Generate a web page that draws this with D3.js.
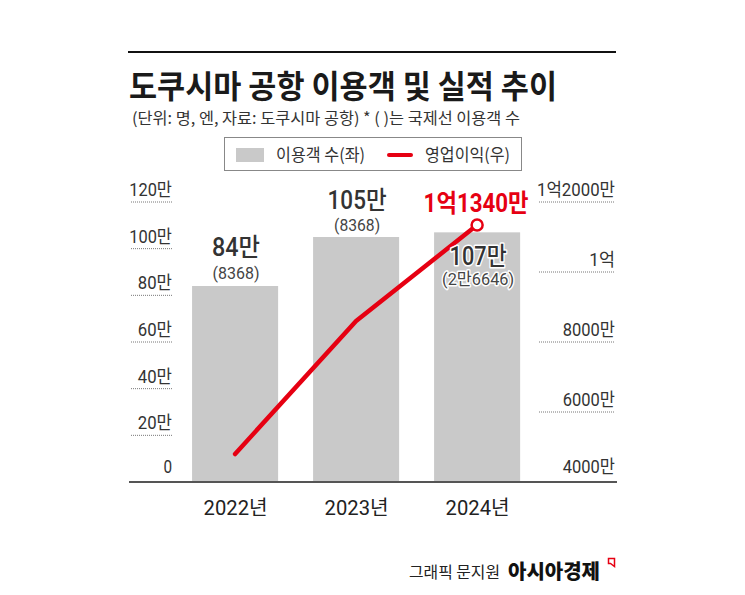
<!DOCTYPE html>
<html><head><meta charset="utf-8">
<script src="https://cdn.jsdelivr.net/npm/d3@7/dist/d3.min.js"></script>
<style>
html,body{margin:0;padding:0;background:#fff;}
svg text{font-family:"Noto Sans CJK KR","Noto Sans",sans-serif;}
svg text.num{font-family:Roboto,"Noto Sans CJK KR",sans-serif;}
</style></head>
<body>
<svg id="c" width="745" height="595"></svg>
<script>
const years = ["2022년", "2023년", "2024년"];
const passengers = [84, 105, 107];            // 만 명
const passengerLabels = ["84만", "105만", "107만"];
const intlLabels = ["(8368)", "(8368)", "(2만6646)"];
const profit = [4800, 8600, 11340];           // 만 엔
const profitLabel = "1억1340만";
const leftTicks = [0, 20, 40, 60, 80, 100, 120];
const leftTickLabels = ["0", "20만", "40만", "60만", "80만", "100만", "120만"];
const rightTicks = [4000, 6000, 8000, 10000, 12000];
const rightTickLabels = ["4000만", "6000만", "8000만", "1억", "1억2000만"];

const svg = d3.select("#c");
const RED = "#e60012";
const BAR = "#c9c9c9";

const x = d3.scaleBand().domain(years).range([171.5, 540.7]).paddingInner(0.289).paddingOuter(0.17);
const yL = d3.scaleLinear().domain([0, 120]).range([482, 202]);
const yR = d3.scaleLinear().domain([4000, 12000]).range([482, 202]);

// approximate rendered widths (px) for condensed look
function fit(sel, w) { return sel.attr("textLength", w).attr("lengthAdjust", "spacingAndGlyphs"); }
function labW(s, perDigit, perHangul, perParen) {
  let w = 0;
  for (const ch of s) {
    if (/[0-9]/.test(ch)) w += perDigit;
    else if (/[()]/.test(ch)) w += perParen;
    else w += perHangul;
  }
  return w;
}

// top rule
svg.append("line").attr("x1", 128).attr("x2", 616).attr("y1", 52).attr("y2", 52)
  .attr("stroke", "#111").attr("stroke-width", 2.2);

// title
fit(svg.append("text").attr("x", 129).attr("y", 98).text("도쿠시마 공항 이용객 및 실적 추이")
  .attr("font-size", 32).attr("font-weight", 700).attr("fill", "#1a1a1a"), 428);
fit(svg.append("text").attr("x", 132).attr("y", 124).text("(단위: 명, 엔, 자료: 도쿠시마 공항)  * ( )는 국제선 이용객 수")
  .attr("font-size", 16).attr("fill", "#333"), 388);

// legend
svg.append("rect").attr("x", 224.5).attr("y", 137.5).attr("width", 297).attr("height", 33)
  .attr("fill", "#fff").attr("stroke", "#888").attr("stroke-width", 1);
svg.append("rect").attr("x", 236).attr("y", 148).attr("width", 28).attr("height", 14).attr("fill", BAR);
fit(svg.append("text").attr("x", 276).attr("y", 161).text("이용객 수(좌)").attr("font-size", 17).attr("fill", "#333"), 89);
svg.append("line").attr("x1", 389).attr("x2", 411).attr("y1", 155).attr("y2", 155)
  .attr("stroke", RED).attr("stroke-width", 4).attr("stroke-linecap", "round");
fit(svg.append("text").attr("x", 425).attr("y", 161).text("영업이익(우)").attr("font-size", 17).attr("fill", "#333"), 85);

// left axis
const gL = svg.append("g");
leftTicks.forEach((t, i) => {
  if (t !== 0) {
    gL.append("line").attr("x1", 131).attr("x2", 173).attr("y1", yL(t)).attr("y2", yL(t))
      .attr("stroke", "#777").attr("stroke-width", 1).attr("stroke-dasharray", "1,1");
  }
  fit(gL.append("text").attr("class", "num").attr("x", 172).attr("y", t === 0 ? yL(t) - 9 : yL(t) - 6)
    .attr("text-anchor", "end").attr("font-size", 18).attr("fill", "#333")
    .text(leftTickLabels[i]), labW(leftTickLabels[i], 8.6, 17, 5));
});

// right axis
const gR = svg.append("g");
rightTicks.forEach((t, i) => {
  if (t !== 4000) {
    gR.append("line").attr("x1", 539).attr("x2", 615).attr("y1", yR(t)).attr("y2", yR(t))
      .attr("stroke", "#777").attr("stroke-width", 1).attr("stroke-dasharray", "1,1");
  }
  fit(gR.append("text").attr("class", "num").attr("x", 615).attr("y", t === 4000 ? yR(t) - 9 : yR(t) - 6)
    .attr("text-anchor", "end").attr("font-size", 18).attr("fill", "#333")
    .text(rightTickLabels[i]), labW(rightTickLabels[i], 8.8, 17, 5));
});

// bars
svg.selectAll("rect.bar").data(years).enter().append("rect").attr("class", "bar")
  .attr("x", d => x(d)).attr("width", x.bandwidth())
  .attr("y", (d, i) => yL(passengers[i])).attr("height", (d, i) => yL(0) - yL(passengers[i]))
  .attr("fill", BAR);

// baseline
svg.append("line").attr("x1", 129).attr("x2", 617).attr("y1", 482).attr("y2", 482)
  .attr("stroke", "#555").attr("stroke-width", 2);

// x labels
years.forEach(d => {
  fit(svg.append("text").attr("class", "num").attr("x", x(d) + x.bandwidth() / 2 + 0.5).attr("y", 515)
    .attr("text-anchor", "middle").attr("font-size", 20).attr("fill", "#222").text(d), 64);
});

// line
const cx = d => x(d) + x.bandwidth() / 2;
const line = d3.line().x((d, i) => cx(years[i])).y(d => yR(d));
svg.append("path").datum(profit).attr("d", line).attr("fill", "none")
  .attr("stroke", RED).attr("stroke-width", 4.5).attr("stroke-linecap", "round").attr("stroke-linejoin", "round");
svg.append("circle").attr("cx", cx(years[2])).attr("cy", yR(profit[2])).attr("r", 5.5)
  .attr("fill", "#fff").attr("stroke", RED).attr("stroke-width", 2.5);

// bar value labels
const lab = [
  {big: 256, small: 279, halo: false, wb: 48, ws: 47},
  {big: 209, small: 231, halo: false, wb: 59, ws: 46},
  {big: 265, small: 285, halo: true, wb: 57, ws: 72}
];
years.forEach((d, i) => {
  const g = svg.append("g");
  const t1 = fit(g.append("text").attr("class", "num").attr("x", cx(d) + 1).attr("y", lab[i].big).attr("text-anchor", "middle")
    .attr("font-size", 25).attr("font-weight", 500).attr("fill", "#333")
    .text(passengerLabels[i]), lab[i].wb);
  const t2 = fit(g.append("text").attr("class", "num").attr("x", cx(d) + 1).attr("y", lab[i].small).attr("text-anchor", "middle")
    .attr("font-size", 17).attr("fill", "#444")
    .text(intlLabels[i]), lab[i].ws);
  if (lab[i].halo) {
    [t1, t2].forEach(t => t.attr("stroke", "#fff").attr("stroke-width", 3).attr("paint-order", "stroke").attr("stroke-linejoin", "round"));
  }
});
fit(svg.append("text").attr("class", "num").attr("x", cx(years[2]) - 1).attr("y", 212).attr("text-anchor", "middle")
  .attr("font-size", 25).attr("font-weight", 700).attr("fill", RED)
  .text(profitLabel), 105);

// footer
fit(svg.append("text").attr("x", 409).attr("y", 578).text("그래픽 문지원").attr("font-size", 16).attr("fill", "#222"), 91);
fit(svg.append("text").attr("x", 508).attr("y", 579).text("아시아경제").attr("font-size", 20).attr("font-weight", 900).attr("fill", "#111"), 92);
svg.append("path").attr("d", "M608.5,558.5 L614.5,558.5 L614.5,566.5 L610.5,563.5 L608.5,563.5 Z")
  .attr("fill", "none").attr("stroke", RED).attr("stroke-width", 1.5);
</script>
</body></html>
